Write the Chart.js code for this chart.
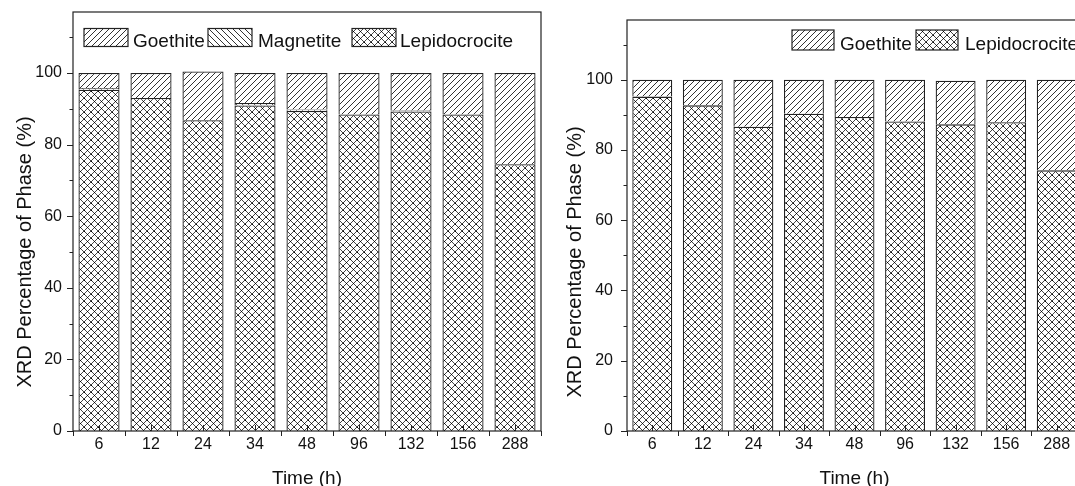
<!DOCTYPE html>
<html><head><meta charset="utf-8">
<script src="https://cdn.jsdelivr.net/npm/chart.js@4.4.1/dist/chart.umd.min.js"></script>
<style>
html,body{margin:0;padding:0;background:#fff;overflow:hidden;}
#wrap{position:relative;width:1075px;height:486px;overflow:hidden;background:#fff;}
canvas{position:absolute;top:0;}
</style></head><body>
<div id="wrap">
<canvas id="c1" width="545" height="486" style="left:0px"></canvas>
<canvas id="c2" width="545" height="486" style="left:541px"></canvas>
</div>
<script>
// ---- data ----
const timeLabels = ['6', '12', '24', '34', '48', '96', '132', '156', '288'];
const leftLepidocrocite = [95.3, 93.0, 86.8, 90.9, 89.4, 88.4, 89.2, 88.4, 74.5];
const leftMagnetite     = [0.5, null, null, 0.7, 0.4, null, 0.3, null, null];
const leftGoethite      = [4.2, 7.0, 13.6, 8.4, 10.2, 11.6, 10.5, 11.6, 25.5];
const rightLepidocrocite = [95.2, 92.7, 86.6, 90.3, 89.4, 88.1, 87.3, 87.9, 74.2];
const rightGoethite      = [4.8, 7.3, 13.4, 9.7, 10.6, 11.9, 12.4, 12.1, 25.8];
const yTickValues = [0, 10, 20, 30, 40, 50, 60, 70, 80, 90, 100, 110];
const yTickLabels = ['0', '', '20', '', '40', '', '60', '', '80', '', '100', ''];
const yTitle = 'XRD Percentage of Phase (%)';
const xTitle = 'Time (h)';

const FONT = '"Liberation Sans", Arial, Helvetica, sans-serif';
const INK = '#111';

function makePattern(kind) {
  const s = kind === 'cross' ? 7 : 6;
  const c = document.createElement('canvas'); c.width = s; c.height = s;
  const g = c.getContext('2d');
  g.fillStyle = '#fff'; g.fillRect(0, 0, s, s);
  g.strokeStyle = kind === 'cross' ? '#444' : '#333'; g.lineWidth = 1;
  g.beginPath();
  if (kind === 'fwd' || kind === 'cross') {
    g.moveTo(-1, s + 1); g.lineTo(s + 1, -1);
    g.moveTo(-1, 1); g.lineTo(1, -1);
    g.moveTo(s - 1, s + 1); g.lineTo(s + 1, s - 1);
  }
  if (kind === 'back' || kind === 'cross') {
    g.moveTo(-1, -1); g.lineTo(s + 1, s + 1);
    g.moveTo(s - 1, -1); g.lineTo(s + 1, 1);
    g.moveTo(-1, s - 1); g.lineTo(1, s + 1);
  }
  g.stroke();
  if (kind === 'cross') {
    g.fillStyle = '#000';
    g.fillRect(3, 3, 1, 1);
    g.fillRect(0, 0, 1, 1);
  }
  return g.createPattern(c, 'repeat');
}
const patGoethite = makePattern('fwd');
const patMagnetite = makePattern('back');
const patLepido = makePattern('cross');

const decor = {
  id: 'decor',
  afterDatasetsDraw(chart, args, o) {
    const { ctx, chartArea: a, scales: { x, y } } = chart;
    ctx.save();
    ctx.strokeStyle = '#222';
    ctx.lineWidth = 1.2;
    ctx.strokeRect(a.left, a.top, a.right - a.left, a.bottom - a.top);
    ctx.lineWidth = 1;
    ctx.beginPath();
    yTickValues.forEach((v, i) => {
      const py = Math.round(y.getPixelForValue(v)) + 0.5;
      const len = yTickLabels[i] !== '' ? 6 : 3.5;
      ctx.moveTo(a.left - len, py); ctx.lineTo(a.left, py);
    });
    const n = timeLabels.length;
    for (let i = 0; i < n; i++) {
      const px = Math.round(x.getPixelForValue(i)) + 0.5;
      ctx.moveTo(px, a.bottom); ctx.lineTo(px, a.bottom - 6);
    }
    for (let i = 0; i <= n; i++) {
      const px = Math.round(x.getPixelForValue(i - 0.5)) + 0.5;
      ctx.moveTo(px, a.bottom); ctx.lineTo(px, a.bottom + 5);
    }
    ctx.stroke();
    ctx.restore();
  },
  afterDraw(chart, args, o) {
    const { ctx, chartArea: a } = chart;
    ctx.save();
    ctx.fillStyle = INK;
    ctx.font = '20px ' + FONT;
    ctx.textAlign = 'center'; ctx.textBaseline = 'middle';
    ctx.translate(o.yTitleX, o.yTitleY); ctx.rotate(-Math.PI / 2);
    ctx.fillText(yTitle, 0, 0);
    ctx.setTransform(1, 0, 0, 1, 0, 0);
    ctx.font = '19px ' + FONT;
    ctx.textBaseline = 'alphabetic';
    ctx.fillText(xTitle, (a.left + a.right) / 2, o.xTitleBase);
    ctx.textAlign = 'left';
    o.legend.forEach(it => {
      ctx.fillStyle = it.pattern;
      ctx.fillRect(it.x, o.legY, o.legW, o.legH);
      ctx.strokeStyle = '#222'; ctx.lineWidth = 1.2;
      ctx.strokeRect(it.x, o.legY, o.legW, o.legH);
      ctx.fillStyle = INK;
      ctx.fillText(it.label, it.tx, o.legBase);
    });
    ctx.restore();
  }
};

function ds(label, data, pattern) {
  return { label, data, backgroundColor: pattern, borderColor: '#222', borderWidth: 1.3,
           barPercentage: 0.79, categoryPercentage: 1.0 };
}

function buildChart(id, datasets, cfg) {
  return new Chart(document.getElementById(id), {
    type: 'bar',
    data: { labels: timeLabels, datasets },
    options: {
      responsive: false, animation: false, devicePixelRatio: 1,
      layout: { padding: { left: 0, right: 4, top: cfg.top, bottom: 0 } },
      plugins: { legend: { display: false }, tooltip: { enabled: false }, decor: cfg.decor },
      scales: {
        x: {
          stacked: true,
          grid: { display: false, drawTicks: false }, border: { display: false },
          ticks: { font: { family: FONT, size: 16 }, color: INK, padding: 4, maxRotation: 0, autoSkip: false },
          afterFit: s => { s.height = 486 - cfg.bottom; s.paddingLeft = 0; s.paddingRight = 0; }
        },
        y: {
          stacked: true, min: 0, max: 117,
          grid: { display: false, drawTicks: false }, border: { display: false },
          afterBuildTicks: s => { s.ticks = yTickValues.map(v => ({ value: v })); },
          ticks: {
            font: { family: FONT, size: 16 }, color: INK, padding: cfg.labelPad,
            callback: (v) => { const i = yTickValues.indexOf(v); return i >= 0 ? yTickLabels[i] : ''; }
          },
          afterFit: s => { s.width = cfg.axisW; s.paddingTop = 0; s.paddingBottom = 0; }
        }
      }
    },
    plugins: [decor]
  });
}

buildChart('c1', [
  ds('Lepidocrocite', leftLepidocrocite, patLepido),
  ds('Magnetite', leftMagnetite, patMagnetite),
  ds('Goethite', leftGoethite, patGoethite)
], {
  top: 12, bottom: 431, axisW: 73, labelPad: 11,
  decor: {
    yTitleX: 25.5, yTitleY: 252, xTitleBase: 484,
    legY: 28.5, legW: 44, legH: 18, legBase: 46.5,
    legend: [
      { label: 'Goethite', pattern: patGoethite, x: 84, tx: 133 },
      { label: 'Magnetite', pattern: patMagnetite, x: 208, tx: 258 },
      { label: 'Lepidocrocite', pattern: patLepido, x: 352, tx: 400 }
    ]
  }
});

buildChart('c2', [
  ds('Lepidocrocite', rightLepidocrocite, patLepido),
  ds('Goethite', rightGoethite, patGoethite)
], {
  top: 20, bottom: 431, axisW: 86, labelPad: 14,
  decor: {
    yTitleX: 34, yTitleY: 262, xTitleBase: 484,
    legY: 30, legW: 42, legH: 20, legBase: 49.5,
    legend: [
      { label: 'Goethite', pattern: patGoethite, x: 251, tx: 299 },
      { label: 'Lepidocrocite', pattern: patLepido, x: 375, tx: 424 }
    ]
  }
});
</script>
</body></html>
